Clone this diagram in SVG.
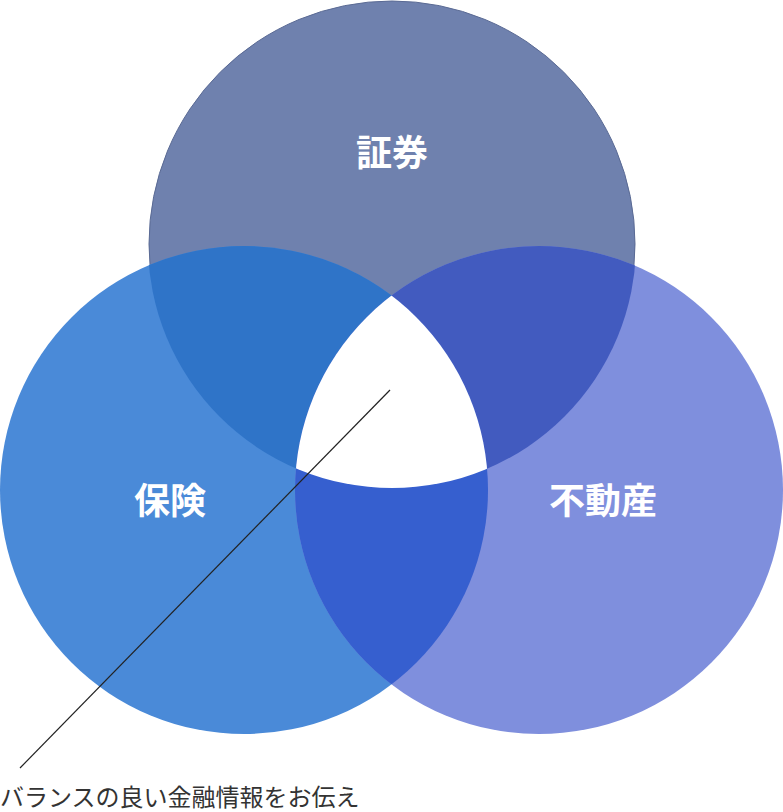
<svg xmlns="http://www.w3.org/2000/svg" width="783" height="812" viewBox="0 0 783 812">
<style>
.lbl{font-family:"Noto Sans CJK JP","Noto Sans",sans-serif;font-weight:bold;font-size:36px;fill:#fff;text-anchor:middle}
.cap{font-family:"Noto Sans CJK JP","Noto Sans",sans-serif;font-size:24px;fill:#333}
</style>
<defs>
<clipPath id="cT"><circle cx="392" cy="244" r="244"/></clipPath>
<clipPath id="cL"><circle cx="244" cy="490" r="244"/></clipPath>
<clipPath id="cR"><circle cx="539" cy="490" r="244"/></clipPath>
</defs>
<g id="securities"><circle cx="392" cy="244" r="243" fill="#6f81ae" stroke="#5a6a94" stroke-width="1"/></g>
<g id="insurance"><circle cx="244" cy="490" r="244" fill="#4a8ad8"/></g>
<g id="realestate"><circle cx="539" cy="490" r="244" fill="#7f8fdd"/></g>
<g id="overlaps">
<circle cx="244" cy="490" r="244" fill="#2f74c8" clip-path="url(#cT)"/>
<circle cx="539" cy="490" r="244" fill="#425bbf" clip-path="url(#cT)"/>
<circle cx="539" cy="490" r="244" fill="#365fcf" clip-path="url(#cL)"/>
<g clip-path="url(#cT)"><g clip-path="url(#cL)"><circle cx="539" cy="490" r="244" fill="#fff"/></g></g>
</g>
<g id="labels">
<text class="lbl" x="392" y="166">証券</text>
<text class="lbl" x="170" y="514">保険</text>
<text class="lbl" x="603" y="514">不動産</text>
</g>
<g id="connectors"><line x1="390" y1="390" x2="20" y2="768" stroke="#222" stroke-width="1.2"/></g>
<text class="cap" x="0" y="806">バランスの良い金融情報をお伝え</text>
</svg>
